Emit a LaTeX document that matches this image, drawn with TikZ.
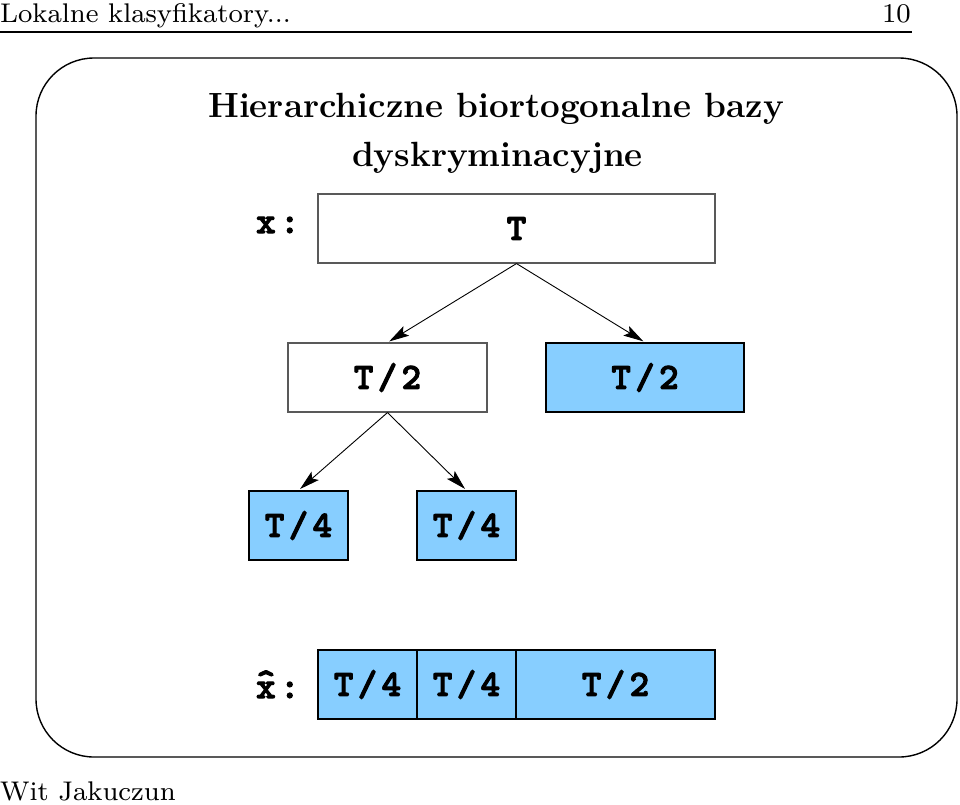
\documentclass[tikz,border=0pt]{standalone}
\usepackage{fontspec}
\newfontfamily\cour{lmmonolt10-bold}[Extension=.otf, LetterSpace=12, FakeBold=3]
\newfontfamily\hdrfont{lmroman8-regular}[Extension=.otf]
\usetikzlibrary{arrows.meta}
\definecolor{ltblue}{RGB}{135,206,255}
\begin{document}
\begin{tikzpicture}[x=1pt,y=-1pt,
  hdr/.style={font=\fontsize{27}{31}\selectfont\hdrfont, inner sep=0pt},
  ttl/.style={font=\fontsize{35}{40}\selectfont\bfseries, inner sep=0pt},
  lbl/.style={font=\fontsize{37}{44}\selectfont\cour, inner sep=0pt},
  wbox/.style={draw=black!65, line width=1.1pt, fill=white, minimum height=69pt, inner sep=0pt, font=\fontsize{37}{44}\selectfont\cour},
  bbox/.style={draw=black, line width=1.3pt, fill=ltblue, minimum height=69pt, inner sep=0pt, font=\fontsize{37}{44}\selectfont\cour},
  arr/.style={line width=0.9pt, -{Stealth[length=20pt,width=11pt,inset=4pt]}, shorten >=2pt}
]
\useasboundingbox (0,0) rectangle (960,804);
% header
\node[hdr, anchor=base west] (head) at (0,22.7) {Lokalne klasyfikatory...};
\node[hdr, anchor=base east] (pnum) at (911,22.7) {10};
\coordinate (rulel) at (0,32);
\coordinate (ruler) at (912,32);
\draw[line width=1.4pt] (rulel) -- (ruler);
\node[hdr, anchor=base west] (auth) at (0,800) {Wit Jakuczun};
% frame
\draw[line width=1.4pt, rounded corners=58pt] (36,58) rectangle (957,757);
% title
\node[ttl, anchor=base] (t1) at (496,117) {Hierarchiczne biortogonalne bazy};
\node[ttl, anchor=base] (t2) at (497.5,166) {dyskryminacyjne};
% tree
\node[wbox, minimum width=397pt] (T) at (516.5,228.5) {T};
\node[lbl, anchor=base west] (xl) at (256,233) {x:};
\node[wbox, minimum width=199pt] (Ha) at (387.5,377.5) {T/2};
\node[bbox, minimum width=198pt] (Hb) at (645,377.5) {T/2};
\node[bbox, minimum width=99pt] (Qa) at (298.5,525.5) {T/4};
\node[bbox, minimum width=99pt] (Qb) at (466.5,525.5) {T/4};
\draw[arr] (T.south) -- (Ha.north);
\draw[arr] (T.south) -- (Hb.north);
\draw[arr] (Ha.south) -- (Qa.north);
\draw[arr] (Ha.south) -- (Qb.north);
% bottom row
\node[bbox, minimum width=99pt] (B1) at (367.5,684.5) {T/4};
\node[bbox, minimum width=99pt] (B2) at (466.5,684.5) {T/4};
\node[bbox, minimum width=199pt] (B3) at (615.5,684.5) {T/2};
\node[lbl, anchor=base west] (xh) at (256,698) {\makebox[0pt][l]{\raisebox{0.12em}{\textasciicircum}}x:};
\end{tikzpicture}
\end{document}
